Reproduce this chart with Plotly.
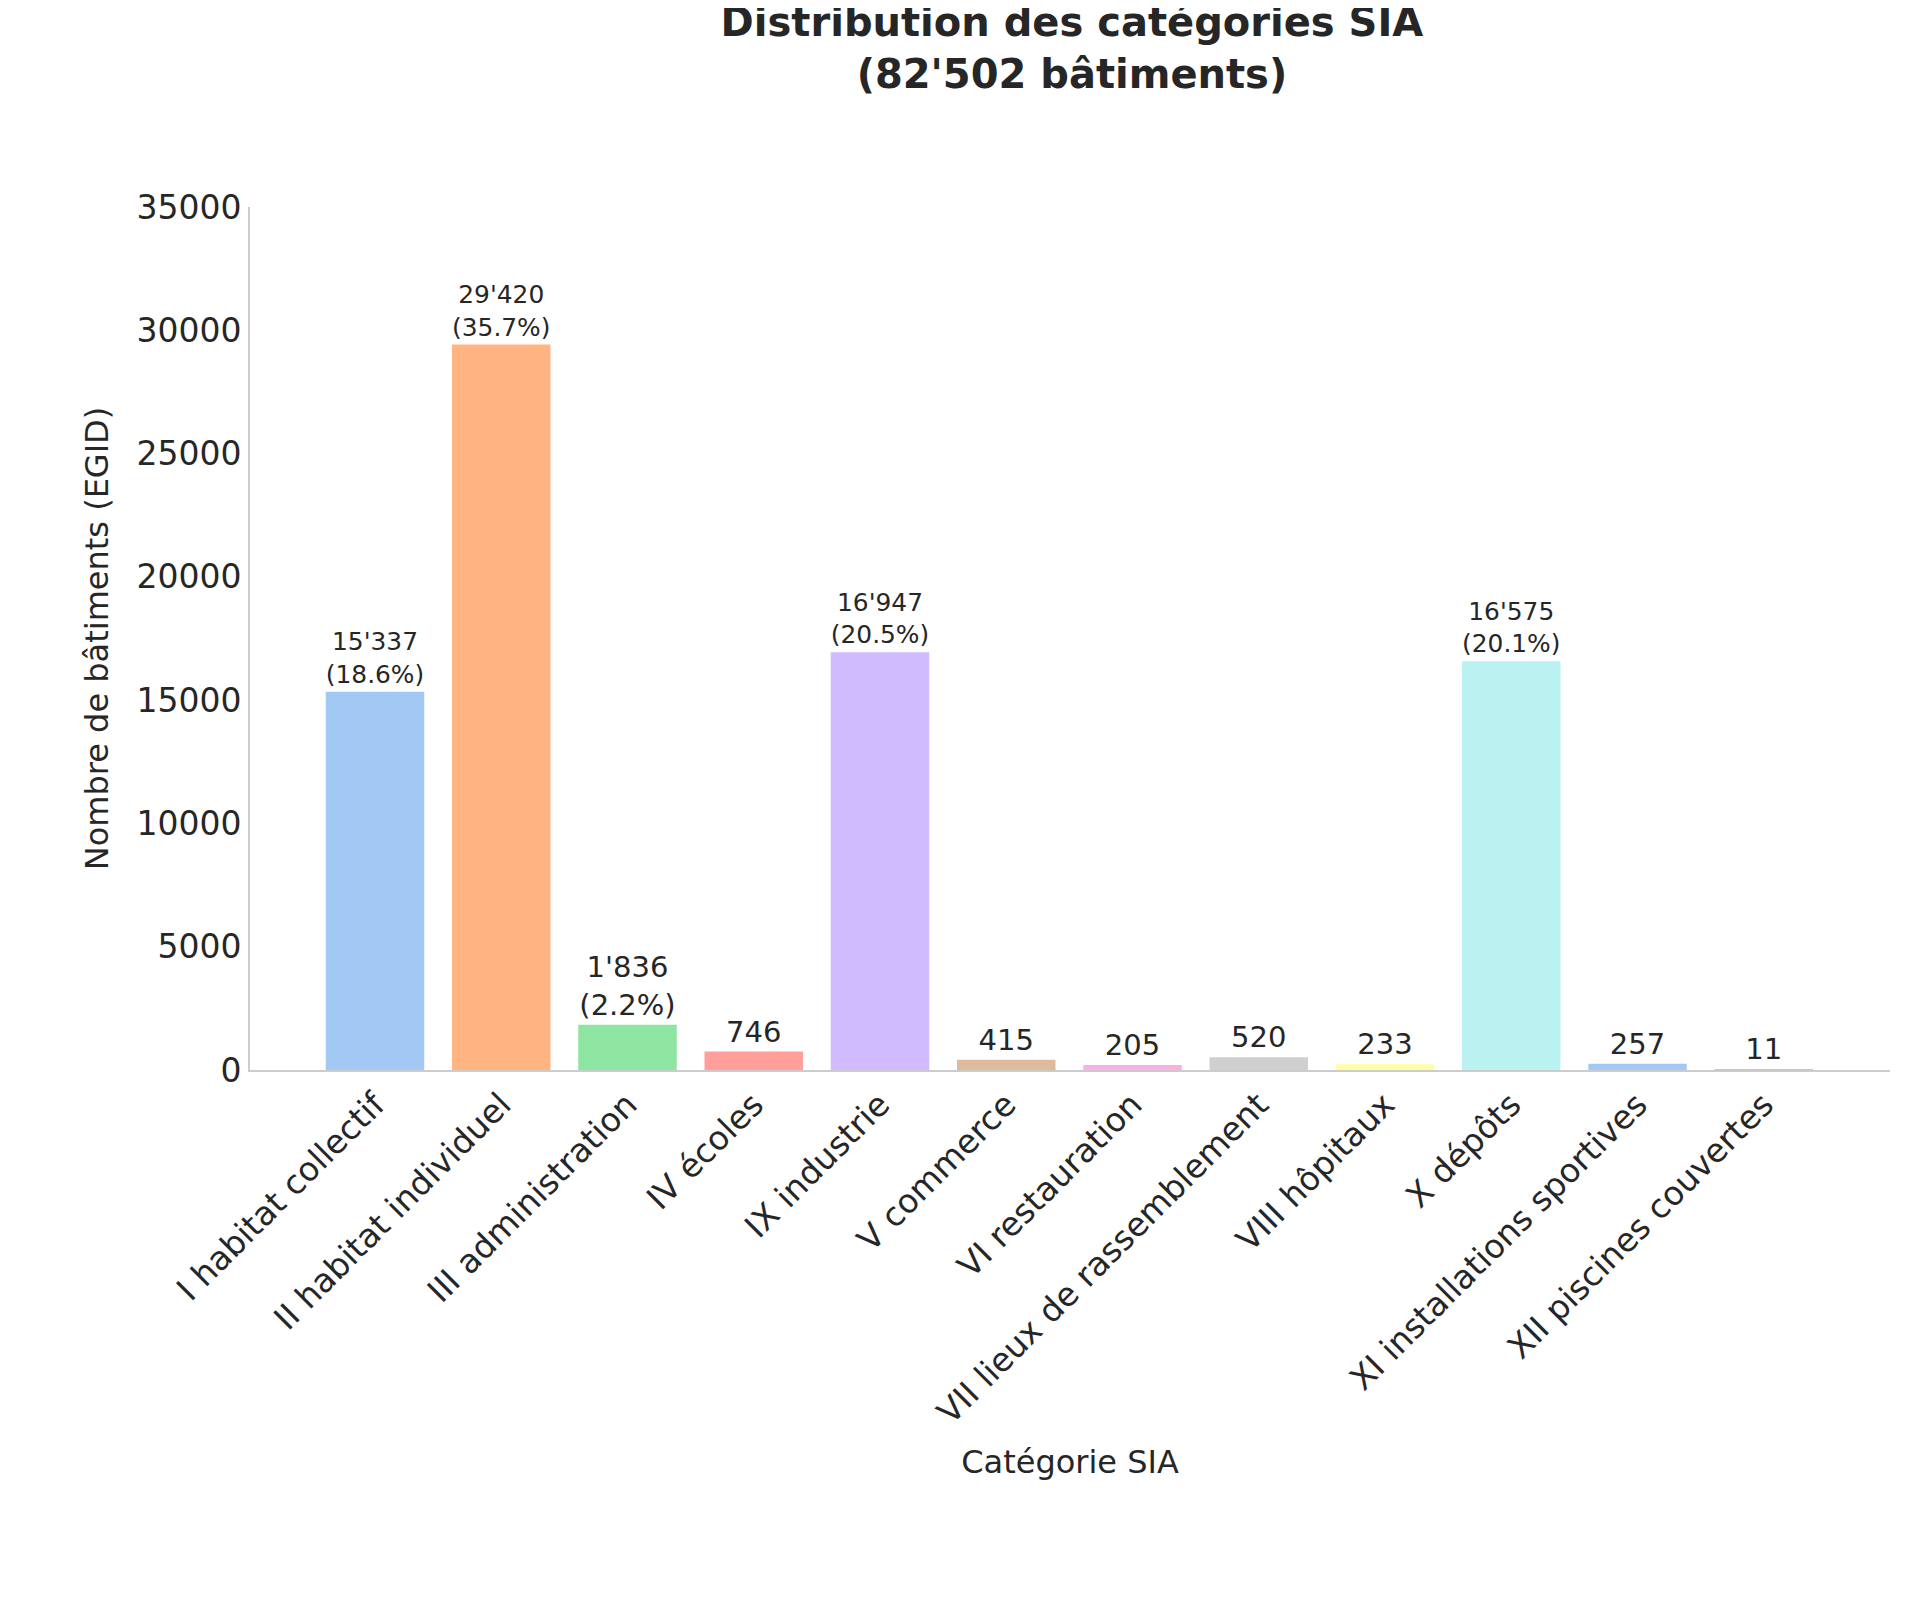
import plotly.graph_objects as go

categories = ["I habitat collectif", "II habitat individuel", "III administration", "IV écoles",
              "IX industrie", "V commerce", "VI restauration", "VII lieux de rassemblement",
              "VIII hôpitaux", "X dépôts", "XI installations sportives", "XII piscines couvertes"]
counts = [15337, 29420, 1836, 746, 16947, 415, 205, 520, 233, 16575, 257, 11]
colors = ["#a1c9f4", "#ffb482", "#8de5a1", "#ff9f9b", "#d0bbff", "#debb9b",
          "#fab0e4", "#cfcfcf", "#fffea3", "#b9f2f0", "#a1c9f4", "#ffb482"]

total = sum(counts)

def fmt(v):
    return f"{v:,}".replace(",", "'")

labels = []
for v in counts:
    if v > 1000:
        labels.append(f"{fmt(v)}<br>({v / total * 100:.1f}%)")
    else:
        labels.append(fmt(v))

fig = go.Figure(go.Bar(
    x=list(range(len(categories))), y=counts, marker_color=colors, marker_line_width=0,
    text=labels, textposition="outside", cliponaxis=False,
    textfont=dict(size=29, color="#262626"),
))

fig.update_layout(
    width=1917, height=1622,
    paper_bgcolor="white", plot_bgcolor="white",
    font=dict(family="DejaVu Sans", color="#262626"),
    title=dict(text=f"<b>Distribution des catégories SIA<br>({fmt(total)} bâtiments)</b>",
               x=0.555, xanchor="center", y=0.983, yanchor="top", font=dict(size=40)),
    margin=dict(l=242, r=35, t=199, b=560),
    bargap=0.22, showlegend=False,
    uniformtext=dict(minsize=29),
)
fig.update_xaxes(
    tickmode="array", tickvals=list(range(len(categories))), ticktext=categories,
    tickangle=-45, range=[-0.99, 12.0], showgrid=False, showline=True,
    linecolor="#cccccc", linewidth=2, tickfont=dict(size=33), ticks="",
    title=dict(text="Catégorie SIA", font=dict(size=32), standoff=20),
)
fig.update_yaxes(
    range=[0, 35000], dtick=5000, tickformat="d", showgrid=False, showline=True,
    linecolor="#cccccc", linewidth=2, tickfont=dict(size=33), ticks="", zeroline=False,
    title=dict(text="Nombre de bâtiments (EGID)", font=dict(size=32), standoff=18),
)

fig.write_html("out.html")
